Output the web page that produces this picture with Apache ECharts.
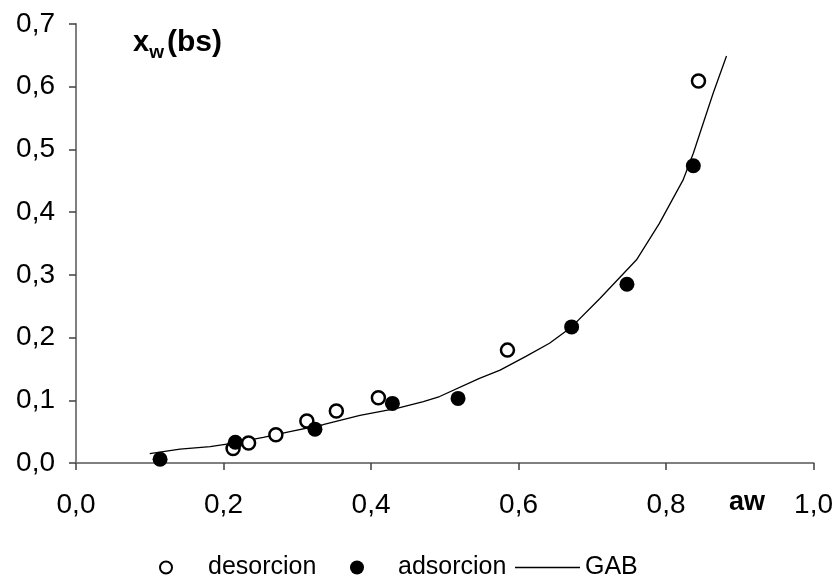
<!DOCTYPE html>
<html>
<head>
<meta charset="utf-8">
<script src="https://cdn.jsdelivr.net/npm/echarts@6/dist/echarts.min.js"></script>
<style>html,body{margin:0;padding:0;background:#fff}#c{width:836px;height:585px}</style>
</head>
<body>
<div id="c"></div>
<script>
var xTicks = [0, 0.2, 0.4, 0.6, 0.8, 1.0];
var yTicks = [0, 0.1, 0.2, 0.3, 0.4, 0.5, 0.6, 0.7];

var desorcionX = [0.213, 0.234, 0.271, 0.313, 0.353, 0.410, 0.585, 0.844];
var desorcionY = [0.023, 0.032, 0.045, 0.067, 0.083, 0.104, 0.180, 0.609];

var adsorcionX = [0.114, 0.216, 0.324, 0.429, 0.518, 0.672, 0.747, 0.837];
var adsorcionY = [0.006, 0.033, 0.054, 0.095, 0.103, 0.217, 0.285, 0.474];

var gabX = [0.100, 0.141, 0.182, 0.209, 0.254, 0.290, 0.335, 0.385, 0.435, 0.471, 0.493, 0.547, 0.575, 0.610, 0.642, 0.672, 0.710, 0.760, 0.791, 0.823, 0.837, 0.855, 0.864, 0.882];
var gabY = [0.015, 0.022, 0.026, 0.031, 0.041, 0.050, 0.061, 0.076, 0.087, 0.098, 0.106, 0.135, 0.148, 0.170, 0.191, 0.217, 0.262, 0.324, 0.382, 0.451, 0.494, 0.558, 0.590, 0.649];

function zip(a, b) { return a.map(function (v, i) { return [v, b[i]]; }); }
function fmt(v) { return v.toFixed(1).replace('.', ','); }

var FONT = "'Liberation Sans', Arial, sans-serif";
var chart = echarts.init(document.getElementById('c'));
chart.setOption({
  animation: false,
  backgroundColor: '#fff',
  grid: { left: 76, right: 22, top: 24, bottom: 122, containLabel: false },
  title: [
    {
      text: '{x|x}{w|w}{p|(bs)}',
      left: 133, top: 24, padding: 0,
      textStyle: {
        rich: {
          x: { fontFamily: FONT, fontWeight: 'bold', fontSize: 29, color: '#000' },
          w: { fontFamily: FONT, fontWeight: 'bold', fontSize: 19, color: '#000', padding: [19, 3, 0, 0] },
          p: { fontFamily: FONT, fontWeight: 'bold', fontSize: 30, color: '#000' }
        }
      }
    },
    {
      text: 'aw', left: 729, top: 489, padding: 0,
      textStyle: { fontFamily: FONT, fontWeight: 'bold', fontSize: 27, color: '#000' }
    }
  ],
  legend: [
    {
      data: ['desorcion'], left: 159, top: 555, padding: 0, itemWidth: 12, itemHeight: 12,
      textStyle: { fontFamily: FONT, fontSize: 25, color: '#000', padding: [0, 0, 0, 31] }
    },
    {
      data: ['adsorcion'], left: 350, top: 555, padding: 0, itemWidth: 14, itemHeight: 14,
      textStyle: { fontFamily: FONT, fontSize: 25, color: '#000', padding: [0, 0, 0, 29] }
    },
    {
      data: [{ name: 'GAB', icon: 'rect' }], left: 515, top: 555, padding: 0, itemWidth: 65, itemHeight: 1.5,
      textStyle: { fontFamily: FONT, fontSize: 25, color: '#000', padding: [0, 0, 0, 0] }
    }
  ],
  xAxis: {
    type: 'value', min: 0, max: 1, interval: 0.2,
    splitLine: { show: false },
    axisLine: { onZero: false, lineStyle: { color: '#808080', width: 2 } },
    axisTick: { show: true, length: 7, lineStyle: { color: '#404040', width: 1.5 } },
    axisLabel: { margin: 28, fontFamily: FONT, fontSize: 28, color: '#000', formatter: fmt }
  },
  yAxis: {
    type: 'value', min: 0, max: 0.7, interval: 0.1,
    splitLine: { show: false },
    axisLine: { show: true, lineStyle: { color: '#808080', width: 2 } },
    axisTick: { show: true, length: 7, lineStyle: { color: '#404040', width: 1.5 } },
    axisLabel: { margin: 21, fontFamily: FONT, fontSize: 28, color: '#000', formatter: fmt }
  },
  series: [
    {
      name: 'GAB', type: 'line', data: zip(gabX, gabY), symbol: 'none', smooth: false,
      lineStyle: { color: '#000', width: 1.3 }, itemStyle: { color: '#000' }, z: 2
    },
    {
      name: 'desorcion', type: 'scatter', data: zip(desorcionX, desorcionY), symbol: 'circle', symbolSize: 13,
      itemStyle: { color: '#fff', borderColor: '#000', borderWidth: 2.5, opacity: 1 }, z: 3
    },
    {
      name: 'adsorcion', type: 'scatter', data: zip(adsorcionX, adsorcionY), symbol: 'circle', symbolSize: 15,
      itemStyle: { color: '#000', borderColor: '#000', borderWidth: 0, opacity: 1 }, z: 4
    }
  ]
});
</script>
</body>
</html>
